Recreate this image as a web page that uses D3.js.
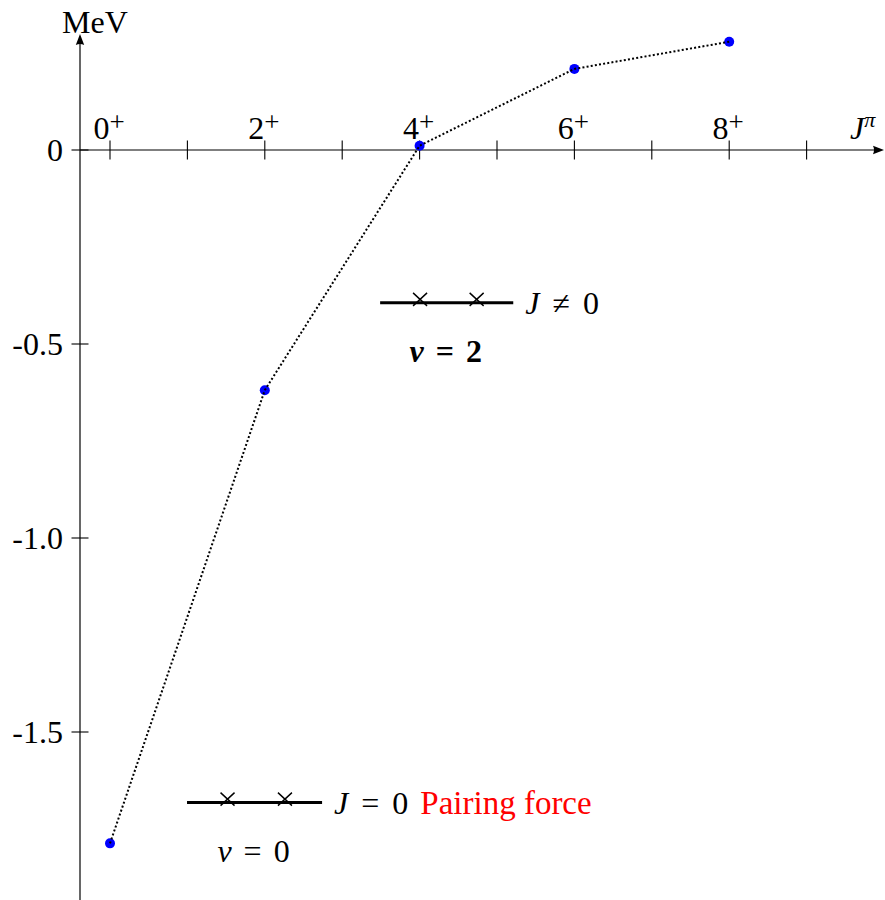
<!DOCTYPE html>
<html>
<head>
<meta charset="utf-8">
<script src="https://cdn.jsdelivr.net/npm/d3@7"></script>
<style>
  html, body { margin: 0; padding: 0; background: #fff; }
  svg { display: block; }
</style>
</head>
<body>
<script>
// Energies of the (j)^2 two-particle multiplet, in MeV, versus spin J
const spins = [0, 2, 4, 6, 8];
const energies = [-1.787, -0.619, 0.011, 0.209, 0.279];
const spinLabels = ["0", "2", "4", "6", "8"];
const spinTicks = [0, 1, 2, 3, 4, 5, 6, 7, 8, 9];
const energyTicks = [0, -0.5, -1.0, -1.5];
const energyTickLabels = ["0", "-0.5", "-1.0", "-1.5"];

const W = 885, H = 900;
const FONT = "'Liberation Serif', 'Times New Roman', serif";
const FS = 32;

const svg = d3.select("body").append("svg").attr("width", W).attr("height", H)
  .attr("font-family", FONT);

const x = d3.scaleLinear().domain([0, 10]).range([110, 884]);
const y = d3.scaleLinear().domain([-2, 0.3]).range([926, 33.6]);

const x0 = 80;          // vertical axis position
const y0 = y(0);        // horizontal axis position

const ink = "#000";

// axes lines
svg.append("line").attr("x1", x0).attr("x2", x(10) - 6).attr("y1", y0).attr("y2", y0)
  .attr("stroke", ink).attr("stroke-width", 1.2);
svg.append("line").attr("x1", x0).attr("x2", x0).attr("y1", H).attr("y2", 40)
  .attr("stroke", ink).attr("stroke-width", 1.2);

// arrow heads
function arrowHead(tx, ty, angle) {
  const g = svg.append("g").attr("transform", `translate(${tx},${ty}) rotate(${angle})`);
  g.append("path").attr("d", "M0,0 L-11,-4.2 Q-9,0 -11,4.2 Z").attr("fill", ink);
}
arrowHead(x(10), y0, 0);
arrowHead(x0, 34, -90);

// ticks on the spin axis
svg.append("g").selectAll("line").data(spinTicks).join("line")
  .attr("x1", d => x(d)).attr("x2", d => x(d))
  .attr("y1", y0 - 9.5).attr("y2", y0 + 9.5)
  .attr("stroke", ink).attr("stroke-width", 1.1);

// ticks on the energy axis
svg.append("g").selectAll("line").data(energyTicks).join("line")
  .attr("x1", x0 - 8.5).attr("x2", x0 + 8.5)
  .attr("y1", d => y(d)).attr("y2", d => y(d))
  .attr("stroke", ink).attr("stroke-width", 1.1);

// energy tick labels
svg.append("g").selectAll("text").data(energyTicks).join("text")
  .attr("x", 63).attr("y", d => y(d))
  .attr("dy", "0.34em")
  .attr("text-anchor", "end")
  .attr("font-size", FS)
  .text((d, i) => energyTickLabels[i]);

// spin labels J^+
const sl = svg.append("g").selectAll("text").data(spins).join("text")
  .attr("x", d => x(d) - 1).attr("y", y0 - 11)
  .attr("text-anchor", "middle")
  .attr("font-size", FS);
sl.append("tspan").text((d, i) => spinLabels[i]);
sl.append("tspan").attr("font-size", 27).attr("dy", -8).text("+");

// axis titles
svg.append("text").attr("x", 95).attr("y", 33).attr("text-anchor", "middle")
  .attr("font-size", FS).text("MeV");
const jt = svg.append("text").attr("x", 850).attr("y", y0 - 11).attr("font-size", FS);
jt.append("tspan").attr("font-style", "italic").text("J");
jt.append("tspan").attr("font-style", "italic").attr("font-size", 22).attr("dy", -12).text("π");

// data points
const pts = spins.map((s, i) => [s, energies[i]]);
svg.append("g").selectAll("circle").data(pts).join("circle")
  .attr("cx", d => x(d[0])).attr("cy", d => y(d[1]))
  .attr("r", 5).attr("fill", "#0000ff");

// dotted connecting line
svg.append("path").datum(pts)
  .attr("d", d3.line().x(d => x(d[0])).y(d => y(d[1])))
  .attr("fill", "none").attr("stroke", ink)
  .attr("stroke-width", 2).attr("stroke-dasharray", "2,2.2");

// schematic pair diagrams: a line with two particles
function pairDiagram(j1, j2, e, relation, vValue, vBold, extra) {
  const g = svg.append("g");
  const ly = y(e);
  g.append("line").attr("x1", x(j1)).attr("x2", x(j2)).attr("y1", ly).attr("y2", ly)
    .attr("stroke", ink).attr("stroke-width", 3);
  const span = x(j2) - x(j1);
  [0.3, 0.725].forEach(f => {
    const cx = x(j1) + f * span, cy = ly - 3.5;
    g.append("path")
      .attr("d", `M${cx - 7},${cy - 6.5} L${cx + 7},${cy + 6.5} M${cx - 7},${cy + 6.5} L${cx + 7},${cy - 6.5}`)
      .attr("stroke", ink).attr("stroke-width", 1.4);
  });
  const tx = x(j2) + 12;
  const t = g.append("text").attr("x", tx).attr("y", ly + 11).attr("font-size", FS);
  t.append("tspan").attr("font-style", "italic").text("J");
  t.append("tspan").attr("dx", 13).text(relation);
  t.append("tspan").attr("dx", 13).text("0");
  if (extra) {
    const w = t.node().getComputedTextLength() + 26;
    g.append("text").attr("x", tx + w + 12).attr("y", ly + 11)
      .attr("font-family", "'Liberation Serif', serif")
      .attr("font-size", 33).attr("fill", "#ff0000").text(extra);
  }
  const vt = g.append("text").attr("x", (x(j1) + x(j2)) / 2 - 1).attr("y", ly + 59)
    .attr("text-anchor", "middle").attr("font-size", FS)
    .attr("font-weight", vBold ? "bold" : "normal");
  vt.append("tspan").attr("font-style", "italic").text("v");
  vt.append("tspan").attr("dx", 12).text("=");
  vt.append("tspan").attr("dx", 12).text(vValue);
}
pairDiagram(3.49, 5.21, -0.394, "\u2260", "2", true, null);
pairDiagram(0.995, 2.74, -1.682, "=", "0", false, "Pairing force");
</script>
</body>
</html>
